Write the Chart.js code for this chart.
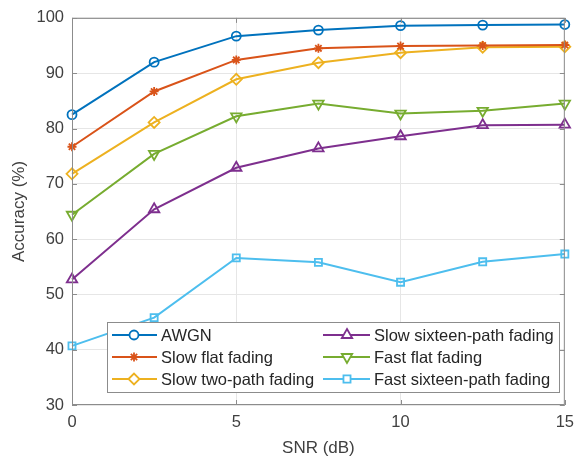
<!DOCTYPE html>
<html>
<head>
<meta charset="utf-8">
<script src="https://cdn.jsdelivr.net/npm/chart.js@4.4.1/dist/chart.umd.min.js"></script>
<style>
  html, body { margin: 0; padding: 0; background: #fff; }
  #wrap { width: 582px; height: 462px; }
</style>
</head>
<body>
<div id="wrap"><canvas id="chart"></canvas></div>
<script>
// ── Data ──
const snr          = [0, 2.5, 5, 7.5, 10, 12.5, 15];
const awgn         = [82.5, 92.0, 96.7, 97.8, 98.6, 98.7, 98.8];
const slowFlat     = [76.7, 86.7, 92.4, 94.5, 94.9, 95.0, 95.1];
const slowTwoPath  = [71.8, 81.1, 88.9, 91.9, 93.7, 94.7, 94.8];
const slowSixteen  = [52.7, 65.4, 72.9, 76.4, 78.6, 80.6, 80.7];
const fastFlat     = [64.4, 75.4, 82.2, 84.5, 82.7, 83.2, 84.5];
const fastSixteen  = [40.7, 45.8, 56.6, 55.8, 52.2, 55.9, 57.3];
const seriesNames  = ['AWGN', 'Slow flat fading', 'Slow two-path fading',
                      'Slow sixteen-path fading', 'Fast flat fading', 'Fast sixteen-path fading'];
const xTickValues  = [0, 5, 10, 15];
const yTickValues  = [30, 40, 50, 60, 70, 80, 90, 100];

const FONT = '"Liberation Sans", Arial, sans-serif';
const TEXT = '#404040';
const AXIS = '#8c8c8c';

// MATLAB-ish marker styles per series
const styles = [
    { color: '#0072BD', pointStyle: 'circle',   radius: 4.5, rot: 0 },
    { color: '#D95319', pointStyle: 'star',     radius: 4.5, rot: 0 },
    { color: '#EDB120', pointStyle: 'rectRot',  radius: 5.5, rot: 0 },
    { color: '#7E2F8E', pointStyle: 'triangle', radius: 6,   rot: 0 },
    { color: '#77AC30', pointStyle: 'triangle', radius: 6,   rot: 180 },
    { color: '#4DBEEE', pointStyle: 'rect',     radius: 5,   rot: 0 },
];
const seriesValues = [awgn, slowFlat, slowTwoPath, slowSixteen, fastFlat, fastSixteen];

const datasets = seriesValues.map((vals, i) => ({
    label: seriesNames[i],
    data: vals.map((v, j) => ({ x: snr[j], y: v })),
    borderColor: styles[i].color,
    backgroundColor: 'transparent',
    borderWidth: 2,
    pointStyle: styles[i].pointStyle,
    pointRadius: styles[i].radius,
    pointRotation: styles[i].rot,
    pointBorderWidth: 1.8,
    pointBorderColor: styles[i].color,
    pointBackgroundColor: 'transparent',
    tension: 0,
    clip: false
}));

// ── Box around plot area + inward tick marks ──
const framePlugin = {
    id: 'frame',
    afterDatasetsDraw(chart) {
        const { ctx, chartArea: a, scales: { x, y } } = chart;
        ctx.save();
        ctx.strokeStyle = AXIS;
        ctx.lineWidth = 1;
        ctx.strokeRect(a.left + 0.5, a.top + 0.5, a.right - a.left - 1, a.bottom - a.top - 1);
        ctx.beginPath();
        xTickValues.forEach(v => {
            const px = Math.round(x.getPixelForValue(v)) + 0.5;
            ctx.moveTo(px, a.bottom); ctx.lineTo(px, a.bottom - 5);
            ctx.moveTo(px, a.top);    ctx.lineTo(px, a.top + 5);
        });
        yTickValues.forEach(v => {
            const py = Math.round(y.getPixelForValue(v)) + 0.5;
            ctx.moveTo(a.left, py);  ctx.lineTo(a.left + 5, py);
            ctx.moveTo(a.right, py); ctx.lineTo(a.right - 5, py);
        });
        ctx.stroke();
        ctx.restore();
    }
};

// ── Two-column legend inside the plot (column-major like MATLAB) ──
const legendPlugin = {
    id: 'insideLegend',
    afterDraw(chart) {
        const { ctx } = chart;
        const box = { x: 107, y: 322, w: 452, h: 70 };
        const cols = [{ l0: 112, l1: 157, m: 134, t: 161 }, { l0: 323, l1: 370, m: 347, t: 374 }];
        const rows = [335, 357, 379];
        ctx.save();
        ctx.fillStyle = '#fff';
        ctx.fillRect(box.x, box.y, box.w, box.h);
        ctx.strokeStyle = AXIS;
        ctx.lineWidth = 1;
        ctx.strokeRect(box.x + 0.5, box.y + 0.5, box.w, box.h);
        ctx.font = '16.5px ' + FONT;
        ctx.textBaseline = 'middle';
        chart.data.datasets.forEach((ds, i) => {
            const c = cols[Math.floor(i / 3)], ry = rows[i % 3];
            ctx.strokeStyle = ds.borderColor;
            ctx.lineWidth = 2;
            ctx.beginPath(); ctx.moveTo(c.l0, ry); ctx.lineTo(c.l1, ry); ctx.stroke();
            ctx.lineWidth = ds.pointBorderWidth;
            ctx.fillStyle = '#fff';
            Chart.helpers.drawPoint(ctx, {
                pointStyle: ds.pointStyle, rotation: ds.pointRotation,
                radius: ds.pointRadius, borderWidth: ds.pointBorderWidth
            }, c.m, ry);
            ctx.fillStyle = '#262626';
            ctx.fillText(ds.label, c.t, ry + 1);
        });
        ctx.restore();
    }
};

new Chart(document.getElementById('chart'), {
    type: 'line',
    data: { datasets },
    options: {
        responsive: true,
        maintainAspectRatio: false,
        animation: false,
        layout: { padding: { top: 15, right: 11, left: 0, bottom: 0 } },
        plugins: { legend: { display: false }, tooltip: { enabled: false } },
        scales: {
            x: {
                type: 'linear', min: 0, max: 15,
                afterBuildTicks: s => { s.ticks = xTickValues.map(v => ({ value: v })); },
                afterFit: s => { s.height = 57; },
                grid: { color: '#e6e6e6', drawTicks: false },
                border: { display: false },
                ticks: { color: TEXT, font: { family: FONT, size: 16.5 }, padding: 8, maxRotation: 0 },
                title: { display: true, text: 'SNR (dB)', color: TEXT, font: { family: FONT, size: 17 }, padding: { top: 0, bottom: 3 } }
            },
            y: {
                min: 30, max: 100,
                afterBuildTicks: s => { s.ticks = yTickValues.map(v => ({ value: v })); },
                afterFit: s => { s.width = 72; },
                grid: { color: '#e6e6e6', drawTicks: false },
                border: { display: false },
                ticks: { color: TEXT, font: { family: FONT, size: 16.5 }, padding: 8 },
                title: { display: true, text: 'Accuracy (%)', color: TEXT, font: { family: FONT, size: 17 }, padding: { top: 9, bottom: 0 } }
            }
        }
    },
    plugins: [framePlugin, legendPlugin]
});
</script>
</body>
</html>
